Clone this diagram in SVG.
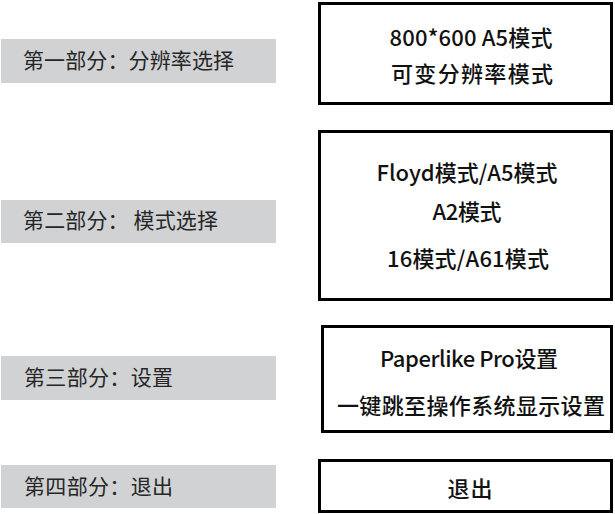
<svg xmlns="http://www.w3.org/2000/svg" width="615" height="514" viewBox="0 0 615 514">
<style>
.lab{fill:#d1d2d4}
.lt{font-family:"Noto Sans CJK SC","Noto Sans",sans-serif;font-size:21px;font-weight:400;fill:#262626}
.box{fill:#fff;stroke:#000;stroke-width:3}
.bt{font-family:"Noto Sans CJK SC","Noto Sans",sans-serif;font-size:22px;font-weight:500;fill:#111;text-anchor:middle}
</style>
<rect width="615" height="514" fill="#fff"/>
<g id="label1"><rect class="lab" x="1" y="39" width="275" height="44"/><text class="lt" x="23" y="68" textLength="211" lengthAdjust="spacing">第一部分：分辨率选择</text></g>
<g id="label2"><rect class="lab" x="1" y="200" width="275" height="43"/><text class="lt" x="23" y="228" textLength="195" lengthAdjust="spacing">第二部分： 模式选择</text></g>
<g id="label3"><rect class="lab" x="1" y="356" width="275" height="44"/><text class="lt" x="24" y="385" textLength="149" lengthAdjust="spacing">第三部分：设置</text></g>
<g id="label4"><rect class="lab" x="1" y="465" width="275" height="43"/><text class="lt" x="24" y="494" textLength="149" lengthAdjust="spacing">第四部分：退出</text></g>
<g id="box1"><rect class="box" x="319.5" y="3.5" width="292" height="100"/>
<text class="bt" x="471" y="46" textLength="163" lengthAdjust="spacing">800*600 A5模式</text>
<text class="bt" x="472" y="82" textLength="162" lengthAdjust="spacing">可变分辨率模式</text></g>
<g id="box2"><rect class="box" x="319.5" y="131.5" width="292" height="168"/>
<text class="bt" x="467" y="181" textLength="181" lengthAdjust="spacing">Floyd模式/A5模式</text>
<text class="bt" x="467" y="220" textLength="69" lengthAdjust="spacing">A2模式</text>
<text class="bt" x="468" y="267" textLength="162" lengthAdjust="spacing">16模式/A61模式</text></g>
<g id="box3"><rect class="box" x="322.5" y="326.5" width="289" height="105"/>
<text class="bt" x="469" y="367" textLength="178" lengthAdjust="spacing">Paperlike Pro设置</text>
<text class="bt" x="471" y="414" textLength="268" lengthAdjust="spacing">一键跳至操作系统显示设置</text></g>
<g id="box4"><rect class="box" x="319.5" y="460.5" width="292" height="51"/>
<text class="bt" x="470" y="497" textLength="45" lengthAdjust="spacing">退出</text></g>
<g id="connectors"></g>
</svg>
